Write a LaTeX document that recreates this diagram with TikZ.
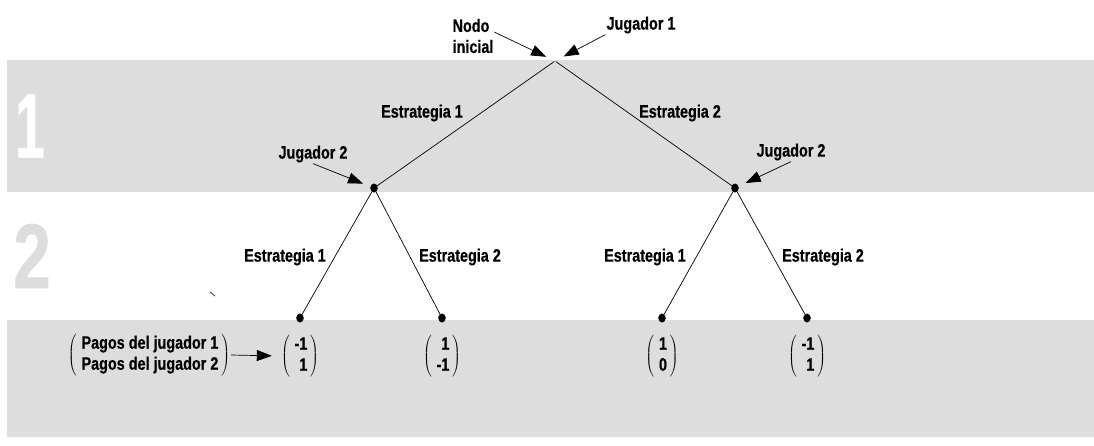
\documentclass[tikz,border=0pt]{standalone}
\usepackage{fontspec}
\setmainfont{Liberation Sans}[FakeStretch=0.8, BoldFeatures={FakeBold=0.6}]
\usetikzlibrary{arrows.meta,shapes.geometric}
\definecolor{banda}{RGB}{221,221,221}
\newcommand{\pago}[2]{$\left(\;\vcenter{\hbox{\begin{tabular}{@{}r@{}}#1\\#2\end{tabular}}}\,\right)$}

\begin{document}
\begin{tikzpicture}[x=1pt,y=-1pt]
\tikzset{texto/.style={font=\fontsize{18}{21}\selectfont\bfseries, inner sep=1pt},
  punto/.style={draw, fill, ellipse, inner sep=0pt, minimum width=7pt, minimum height=8.5pt},
  rama/.style={line width=0.7pt},
  flecha/.style={line width=0.7pt, -{Triangle[length=15pt,width=11pt]}},
  cifra/.style={font=\fontsize{92}{92}\selectfont\bfseries, inner sep=0pt}}
\useasboundingbox (0,0) rectangle (1094,445);
\fill[banda] (7,60) rectangle (1094,192);
\fill[banda] (7,320) rectangle (1094,437);
\node[cifra, white] (fila1) at (30,126) {\scalebox{0.72}[1]{1}};
\node[cifra, banda] (fila2) at (32,256) {\scalebox{0.92}[1]{2}};
% arbol
\node[inner sep=0pt] (raiz) at (555,61) {};
\node[punto] (j2a) at (374,188) {};
\node[punto] (j2b) at (735,188) {};
\node[punto] (h1) at (300,318) {};
\node[punto] (h2) at (442,318) {};
\node[punto] (h3) at (662,318) {};
\node[punto] (h4) at (807,318) {};
\draw[rama] (raiz) -- (j2a);
\draw[rama] (raiz) -- (j2b);
\draw[rama] (j2a) -- (h1);
\draw[rama] (j2a) -- (h2);
\draw[rama] (j2b) -- (h3);
\draw[rama] (j2b) -- (h4);
% etiquetas
\node[texto, align=left] (nodo) at (473,36) {Nodo\\inicial};
\node[texto] (jug1) at (641,25) {Jugador 1};
\node[texto] (jug2a) at (313,154) {Jugador 2};
\node[texto] (jug2b) at (791,152) {Jugador 2};
\node[texto] (e1) at (422,113) {Estrategia 1};
\node[texto] (e2) at (680,113) {Estrategia 2};
\node[texto] (e11) at (285,257) {Estrategia 1};
\node[texto] (e12) at (460,257) {Estrategia 2};
\node[texto] (e21) at (645,257) {Estrategia 1};
\node[texto] (e22) at (823,257) {Estrategia 2};
% pagos
\node[texto] (pagos) at (149,355) {$\left(\;\vcenter{\hbox{\begin{tabular}{@{}l@{}}Pagos del jugador 1\\Pagos del jugador 2\end{tabular}}}\,\right)$};
\node[texto] (p1) at (300,356) {\pago{-1}{1}};
\node[texto] (p2) at (442,356) {\pago{1}{-1}};
\node[texto] (p3) at (662,356) {\pago{1}{0}};
\node[texto] (p4) at (807,356) {\pago{-1}{1}};
% flechas
\draw[flecha, shorten >=9pt] (nodo.10) -- (raiz);
\draw[flecha, shorten >=9pt] (jug1.south west) -- (raiz);
\draw[flecha, shorten >=8pt] (jug2a.south) -- (j2a);
\draw[flecha, shorten >=8pt] (jug2b.south) -- (j2b);
\draw[flecha, shorten >=8pt] (pagos.east) -- (p1.west);
\draw[line width=1pt, black!70] (210,292) -- (215,296);
\end{tikzpicture}
\end{document}
